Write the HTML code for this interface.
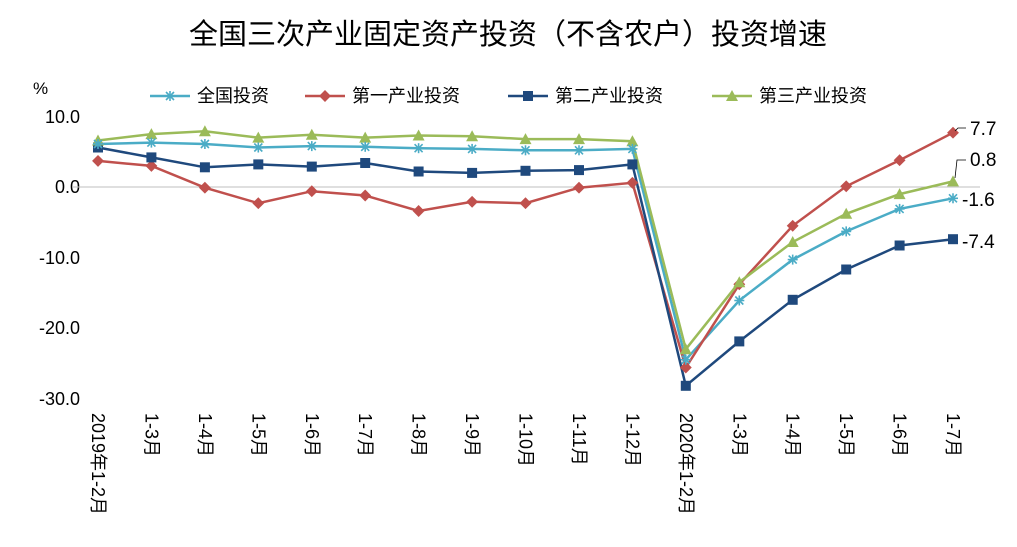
<!DOCTYPE html>
<html><head><meta charset="utf-8"><style>
body{margin:0;background:#fff}
svg text{font-family:"Liberation Sans","Noto Sans CJK SC",sans-serif}
</style></head><body>
<svg width="1017" height="542" viewBox="0 0 1017 542" xmlns="http://www.w3.org/2000/svg">
<defs>
<g id="st"><g stroke="#4bacc6" stroke-width="1.6"><line x1="-5" y1="0" x2="5" y2="0"/><line x1="0" y1="-5" x2="0" y2="5"/><line x1="-4" y1="-4" x2="4" y2="4"/><line x1="-4" y1="4" x2="4" y2="-4"/></g></g>
<rect id="di" x="-4.2" y="-4.2" width="8.4" height="8.4" fill="#c0504d" transform="rotate(45)"/>
<rect id="sq" x="-5" y="-5" width="10" height="10" fill="#1f497d"/>
<polygon id="tr" points="0,-6 6,5 -6,5" fill="#9bbb59"/>
</defs>
<text x="508" y="44" font-size="29" text-anchor="middle" fill="#000">全国三次产业固定资产投资（不含农户）投资增速</text>
<text x="33" y="94" font-size="17">%</text>
<g font-size="18" text-anchor="end">
<text x="80" y="123">10.0</text><text x="80" y="193">0.0</text><text x="80" y="264">-10.0</text><text x="80" y="334">-20.0</text><text x="80" y="405">-30.0</text>
</g>
<line x1="72" y1="187" x2="980" y2="187" stroke="#bfbfbf" stroke-width="1"/>
<g font-size="18">
<line x1="150" y1="96" x2="190" y2="96" stroke="#4bacc6" stroke-width="2.5"/><use href="#st" x="170" y="96"/><text x="197" y="102">全国投资</text>
<line x1="305" y1="96" x2="345" y2="96" stroke="#c0504d" stroke-width="2.5"/><use href="#di" x="325" y="96"/><text x="352" y="102">第一产业投资</text>
<line x1="508" y1="96" x2="548" y2="96" stroke="#1f497d" stroke-width="2.5"/><use href="#sq" x="528" y="96"/><text x="555" y="102">第二产业投资</text>
<line x1="712" y1="96" x2="752" y2="96" stroke="#9bbb59" stroke-width="2.5"/><use href="#tr" x="732" y="96"/><text x="759" y="102">第三产业投资</text>
</g>
<g fill="none" stroke-width="2.5">
<polyline stroke="#4bacc6" points="98,144 151.4,142.6 204.9,144 258.3,147.5 311.8,146.1 365.2,146.8 418.6,148.2 472.1,148.9 525.5,150.3 579,150.3 632.4,148.9 685.8,359.7 739.3,300.5 792.7,259.6 846.2,231.4 899.6,208.9 953,198.3"/>
<polyline stroke="#c0504d" points="98,160.9 151.4,165.9 204.9,187.7 258.3,203.2 311.8,191.2 365.2,195.5 418.6,211 472.1,201.8 525.5,203.2 579,187.7 632.4,182.8 685.8,367.5 739.3,284.3 792.7,225.8 846.2,186.3 899.6,160.2 953,132.7"/>
<polyline stroke="#1f497d" points="98,147.5 151.4,157.4 204.9,167.3 258.3,164.4 311.8,166.6 365.2,163 418.6,171.5 472.1,172.9 525.5,170.8 579,170.1 632.4,164.4 685.8,385.8 739.3,341.4 792.7,299.8 846.2,269.5 899.6,245.5 953,239.2"/>
<polyline stroke="#9bbb59" points="98,140.5 151.4,134.1 204.9,131.3 258.3,137.6 311.8,134.8 365.2,137.6 418.6,135.5 472.1,136.2 525.5,139.1 579,139.1 632.4,141.2 685.8,349.2 739.3,282.2 792.7,242 846.2,213.8 899.6,194.1 953,181.4"/>
</g>
<g>
<use href="#di" x="98" y="160.9"/><use href="#di" x="151.4" y="165.9"/><use href="#di" x="204.9" y="187.7"/><use href="#di" x="258.3" y="203.2"/><use href="#di" x="311.8" y="191.2"/><use href="#di" x="365.2" y="195.5"/><use href="#di" x="418.6" y="211"/><use href="#di" x="472.1" y="201.8"/><use href="#di" x="525.5" y="203.2"/><use href="#di" x="579" y="187.7"/><use href="#di" x="632.4" y="182.8"/><use href="#di" x="685.8" y="367.5"/><use href="#di" x="739.3" y="284.3"/><use href="#di" x="792.7" y="225.8"/><use href="#di" x="846.2" y="186.3"/><use href="#di" x="899.6" y="160.2"/><use href="#di" x="953" y="132.7"/>
<use href="#sq" x="98" y="147.5"/><use href="#sq" x="151.4" y="157.4"/><use href="#sq" x="204.9" y="167.3"/><use href="#sq" x="258.3" y="164.4"/><use href="#sq" x="311.8" y="166.6"/><use href="#sq" x="365.2" y="163"/><use href="#sq" x="418.6" y="171.5"/><use href="#sq" x="472.1" y="172.9"/><use href="#sq" x="525.5" y="170.8"/><use href="#sq" x="579" y="170.1"/><use href="#sq" x="632.4" y="164.4"/><use href="#sq" x="685.8" y="385.8"/><use href="#sq" x="739.3" y="341.4"/><use href="#sq" x="792.7" y="299.8"/><use href="#sq" x="846.2" y="269.5"/><use href="#sq" x="899.6" y="245.5"/><use href="#sq" x="953" y="239.2"/>
<use href="#tr" x="98" y="140.5"/><use href="#tr" x="151.4" y="134.1"/><use href="#tr" x="204.9" y="131.3"/><use href="#tr" x="258.3" y="137.6"/><use href="#tr" x="311.8" y="134.8"/><use href="#tr" x="365.2" y="137.6"/><use href="#tr" x="418.6" y="135.5"/><use href="#tr" x="472.1" y="136.2"/><use href="#tr" x="525.5" y="139.1"/><use href="#tr" x="579" y="139.1"/><use href="#tr" x="632.4" y="141.2"/><use href="#tr" x="685.8" y="349.2"/><use href="#tr" x="739.3" y="282.2"/><use href="#tr" x="792.7" y="242"/><use href="#tr" x="846.2" y="213.8"/><use href="#tr" x="899.6" y="194.1"/><use href="#tr" x="953" y="181.4"/>
<use href="#st" x="98" y="144"/><use href="#st" x="151.4" y="142.6"/><use href="#st" x="204.9" y="144"/><use href="#st" x="258.3" y="147.5"/><use href="#st" x="311.8" y="146.1"/><use href="#st" x="365.2" y="146.8"/><use href="#st" x="418.6" y="148.2"/><use href="#st" x="472.1" y="148.9"/><use href="#st" x="525.5" y="150.3"/><use href="#st" x="579" y="150.3"/><use href="#st" x="632.4" y="148.9"/><use href="#st" x="685.8" y="359.7"/><use href="#st" x="739.3" y="300.5"/><use href="#st" x="792.7" y="259.6"/><use href="#st" x="846.2" y="231.4"/><use href="#st" x="899.6" y="208.9"/><use href="#st" x="953" y="198.3"/>
</g>
<g font-size="19" fill="#000">
<text x="970" y="135">7.7</text><text x="970" y="166">0.8</text><text x="962" y="206">-1.6</text><text x="962" y="248">-7.4</text>
<polyline points="966,128 958,128 955,131" fill="none" stroke="#000" stroke-width="0.8"/>
<polyline points="966,160 957,160 955,178" fill="none" stroke="#000" stroke-width="0.8"/>
</g>
<g font-size="18">
<text transform="translate(92,413) rotate(90)">2019年1-2月</text>
<text transform="translate(145.4,413) rotate(90)">1-3月</text>
<text transform="translate(198.9,413) rotate(90)">1-4月</text>
<text transform="translate(252.3,413) rotate(90)">1-5月</text>
<text transform="translate(305.8,413) rotate(90)">1-6月</text>
<text transform="translate(359.2,413) rotate(90)">1-7月</text>
<text transform="translate(412.6,413) rotate(90)">1-8月</text>
<text transform="translate(466.1,413) rotate(90)">1-9月</text>
<text transform="translate(519.5,413) rotate(90)">1-10月</text>
<text transform="translate(573,413) rotate(90)">1-11月</text>
<text transform="translate(626.4,413) rotate(90)">1-12月</text>
<text transform="translate(679.8,413) rotate(90)">2020年1-2月</text>
<text transform="translate(733.3,413) rotate(90)">1-3月</text>
<text transform="translate(786.7,413) rotate(90)">1-4月</text>
<text transform="translate(840.2,413) rotate(90)">1-5月</text>
<text transform="translate(893.6,413) rotate(90)">1-6月</text>
<text transform="translate(947,413) rotate(90)">1-7月</text>
</g>
</svg>
</body></html>
